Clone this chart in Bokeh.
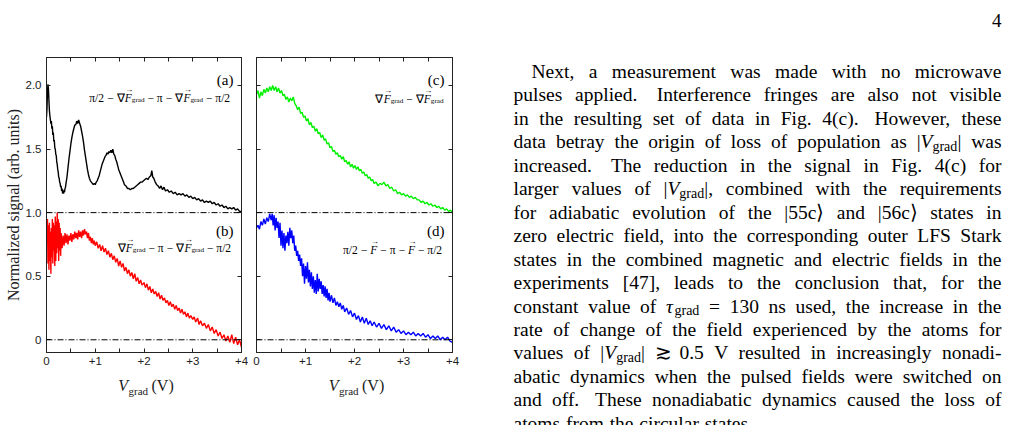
import re
import math
from bokeh.plotting import figure
from bokeh.layouts import row, column
from bokeh.models import (Range1d, FixedTicker, CustomJSTickFormatter, LinearAxis, Span)
from bokeh.core.properties import value
from bokeh.embed import file_html
from bokeh.resources import INLINE

# ------------------------------------------------------------------ data
# (a) pi/2 - gradF - pi - gradF - pi/2  (black)
v_a = [0.00, 0.01, 0.02, 0.03, 0.04, 0.05, 0.06, 0.07, 0.08, 0.09, 0.10, 0.11, 0.12, 0.13,
       0.14, 0.15, 0.16, 0.17, 0.18, 0.19, 0.20, 0.21, 0.22, 0.23, 0.24, 0.25, 0.26, 0.27,
       0.28, 0.29, 0.30, 0.31, 0.32, 0.33, 0.34, 0.35, 0.36, 0.37, 0.38, 0.39, 0.40, 0.42,
       0.44, 0.46, 0.48, 0.50, 0.52, 0.54, 0.56, 0.58, 0.60, 0.62, 0.64, 0.66, 0.68, 0.70,
       0.72, 0.74, 0.76, 0.78, 0.80, 0.82, 0.84, 0.86, 0.88, 0.90, 0.92, 0.94, 0.96, 0.98,
       1.00, 1.02, 1.04, 1.06, 1.08, 1.10, 1.12, 1.14, 1.16, 1.18, 1.20, 1.22, 1.24, 1.26,
       1.28, 1.30, 1.32, 1.34, 1.36, 1.38, 1.40, 1.42, 1.44, 1.46, 1.48, 1.50, 1.52, 1.54,
       1.56, 1.58, 1.60, 1.63, 1.66, 1.69, 1.72, 1.75, 1.78, 1.81, 1.84, 1.87, 1.90, 1.93,
       1.96, 1.99, 2.02, 2.05, 2.08, 2.11, 2.14, 2.16, 2.18, 2.20, 2.23, 2.26, 2.29, 2.32,
       2.35, 2.38, 2.41, 2.44, 2.48, 2.52, 2.56, 2.60, 2.64, 2.68, 2.72, 2.76, 2.80, 2.84,
       2.88, 2.92, 2.96, 3.00, 3.04, 3.08, 3.12, 3.16, 3.20, 3.24, 3.28, 3.32, 3.36, 3.40,
       3.44, 3.48, 3.52, 3.56, 3.60, 3.64, 3.68, 3.72, 3.76, 3.80, 3.84, 3.88, 3.92, 3.96,
       4.00]
s_a = [1.75, 1.82, 1.95, 2.01, 1.97, 1.88, 1.80, 1.76, 1.73, 1.70, 1.72, 1.66, 1.68, 1.61,
       1.63, 1.56, 1.57, 1.51, 1.50, 1.46, 1.45, 1.40, 1.38, 1.34, 1.32, 1.28, 1.27, 1.24,
       1.23, 1.20, 1.21, 1.17, 1.19, 1.15, 1.17, 1.15, 1.18, 1.16, 1.19, 1.20, 1.23, 1.28,
       1.35, 1.42, 1.48, 1.54, 1.59, 1.63, 1.66, 1.69, 1.69, 1.72, 1.70, 1.73, 1.70, 1.68,
       1.64, 1.60, 1.55, 1.49, 1.44, 1.39, 1.34, 1.30, 1.27, 1.25, 1.24, 1.23, 1.22, 1.23,
       1.22, 1.24, 1.25, 1.27, 1.29, 1.32, 1.35, 1.38, 1.40, 1.42, 1.44, 1.45, 1.47, 1.46,
       1.48, 1.47, 1.49, 1.47, 1.50, 1.46, 1.45, 1.42, 1.40, 1.37, 1.34, 1.32, 1.30, 1.28,
       1.26, 1.24, 1.22, 1.21, 1.19, 1.19, 1.18, 1.19, 1.19, 1.20, 1.21, 1.22, 1.23, 1.24,
       1.24, 1.25, 1.26, 1.27, 1.26, 1.28, 1.29, 1.33, 1.28, 1.27, 1.24, 1.22, 1.21, 1.19,
       1.21, 1.18, 1.20, 1.17, 1.18, 1.16, 1.17, 1.15, 1.16, 1.14, 1.15, 1.14, 1.15, 1.13,
       1.14, 1.12, 1.13, 1.11, 1.12, 1.10, 1.11, 1.09, 1.10, 1.08, 1.09, 1.08, 1.09, 1.07,
       1.08, 1.06, 1.07, 1.05, 1.06, 1.04, 1.05, 1.03, 1.04, 1.03, 1.04, 1.02, 1.03, 1.01,
       1.01]

# (b) gradF - pi - gradF - pi/2  (red)
v_b = [0.00, 0.01, 0.02, 0.03, 0.04, 0.05, 0.06, 0.07, 0.08, 0.09, 0.10, 0.11, 0.12, 0.13,
       0.14, 0.15, 0.16, 0.17, 0.18, 0.19, 0.20, 0.21, 0.22, 0.23, 0.24, 0.25, 0.26, 0.27,
       0.28, 0.29, 0.30, 0.32, 0.34, 0.36, 0.38, 0.40, 0.42, 0.44, 0.46, 0.48, 0.50, 0.52,
       0.54, 0.56, 0.58, 0.60, 0.62, 0.64, 0.66, 0.68, 0.70, 0.72, 0.74, 0.76, 0.78, 0.80,
       0.82, 0.84, 0.86, 0.88, 0.90, 0.92, 0.94, 0.96, 0.98, 1.00, 1.03, 1.06, 1.09, 1.12,
       1.15, 1.18, 1.21, 1.24, 1.27, 1.30, 1.33, 1.36, 1.39, 1.42, 1.45, 1.48, 1.51, 1.54,
       1.57, 1.60, 1.63, 1.66, 1.69, 1.72, 1.75, 1.78, 1.81, 1.84, 1.87, 1.90, 1.93, 1.96,
       2.00, 2.03, 2.06, 2.09, 2.12, 2.15, 2.18, 2.21, 2.24, 2.27, 2.30, 2.33, 2.36, 2.39,
       2.42, 2.45, 2.48, 2.51, 2.54, 2.57, 2.60, 2.63, 2.66, 2.69, 2.72, 2.75, 2.78, 2.81,
       2.84, 2.87, 2.90, 2.93, 2.96, 3.00, 3.03, 3.06, 3.10, 3.13, 3.16, 3.20, 3.24, 3.28,
       3.32, 3.36, 3.40, 3.44, 3.48, 3.52, 3.56, 3.60, 3.64, 3.68, 3.72, 3.76, 3.80, 3.84,
       3.88, 3.92, 3.96, 4.00]
s_b = [0.80, 0.78, 0.95, 0.60, 0.90, 0.55, 0.92, 0.62, 0.85, 0.52, 0.88, 0.65, 0.95, 0.60,
       0.92, 0.70, 0.90, 0.58, 0.97, 0.62, 0.93, 0.68, 1.00, 0.72, 0.95, 0.62, 0.92, 0.70,
       0.88, 0.66, 0.84, 0.72, 0.82, 0.74, 0.84, 0.76, 0.83, 0.75, 0.82, 0.78, 0.84, 0.77,
       0.83, 0.79, 0.85, 0.80, 0.84, 0.79, 0.86, 0.81, 0.85, 0.80, 0.86, 0.82, 0.87, 0.83,
       0.85, 0.80, 0.84, 0.78, 0.81, 0.76, 0.80, 0.75, 0.78, 0.74, 0.77, 0.72, 0.75, 0.70,
       0.74, 0.69, 0.72, 0.67, 0.70, 0.65, 0.68, 0.63, 0.66, 0.61, 0.64, 0.58, 0.62, 0.57,
       0.60, 0.54, 0.57, 0.52, 0.55, 0.50, 0.53, 0.48, 0.52, 0.46, 0.49, 0.44, 0.47, 0.43,
       0.45, 0.41, 0.44, 0.39, 0.42, 0.37, 0.40, 0.36, 0.38, 0.34, 0.37, 0.32, 0.35, 0.31,
       0.33, 0.29, 0.31, 0.27, 0.30, 0.26, 0.28, 0.24, 0.27, 0.23, 0.25, 0.21, 0.24, 0.20,
       0.22, 0.18, 0.21, 0.17, 0.19, 0.16, 0.18, 0.14, 0.17, 0.12, 0.15, 0.11, 0.13, 0.09,
       0.12, 0.07, 0.10, 0.05, 0.08, 0.03, 0.06, 0.01, 0.04, -0.01, 0.03, -0.02, 0.04, -0.03,
       0.02, -0.04, 0.00, -0.06]

# (c) gradF - gradF  (green)
v_c = [0.00, 0.03, 0.06, 0.09, 0.12, 0.15, 0.18, 0.21, 0.24, 0.27, 0.30, 0.33, 0.36, 0.39,
       0.42, 0.45, 0.48, 0.51, 0.54, 0.57, 0.60, 0.63, 0.66, 0.69, 0.72, 0.75, 0.78, 0.81,
       0.84, 0.87, 0.90, 0.93, 0.96, 0.99, 1.02, 1.05, 1.08, 1.11, 1.14, 1.17, 1.20, 1.23,
       1.26, 1.29, 1.32, 1.35, 1.38, 1.41, 1.44, 1.47, 1.50, 1.53, 1.56, 1.59, 1.62, 1.65,
       1.68, 1.71, 1.74, 1.77, 1.80, 1.83, 1.86, 1.89, 1.92, 1.95, 1.98, 2.01, 2.04, 2.07,
       2.10, 2.13, 2.16, 2.19, 2.22, 2.25, 2.28, 2.31, 2.34, 2.37, 2.40, 2.44, 2.48, 2.52,
       2.56, 2.60, 2.64, 2.68, 2.72, 2.76, 2.80, 2.84, 2.88, 2.92, 2.96, 3.00, 3.04, 3.08,
       3.12, 3.16, 3.20, 3.24, 3.28, 3.32, 3.36, 3.40, 3.44, 3.48, 3.52, 3.56, 3.60, 3.64,
       3.68, 3.72, 3.76, 3.80, 3.84, 3.88, 3.92, 3.96, 4.00]
s_c = [1.93, 1.96, 1.90, 1.95, 1.92, 1.97, 1.94, 1.98, 1.95, 1.99, 1.96, 2.00, 1.96, 1.99,
       1.95, 1.98, 1.94, 1.96, 1.92, 1.93, 1.89, 1.91, 1.87, 1.90, 1.88, 1.91, 1.86, 1.84,
       1.81, 1.83, 1.78, 1.79, 1.75, 1.76, 1.72, 1.74, 1.69, 1.71, 1.67, 1.68, 1.64, 1.66,
       1.62, 1.63, 1.59, 1.61, 1.57, 1.58, 1.54, 1.55, 1.51, 1.52, 1.48, 1.49, 1.46, 1.47,
       1.44, 1.45, 1.42, 1.44, 1.40, 1.41, 1.38, 1.40, 1.36, 1.38, 1.35, 1.37, 1.34, 1.36,
       1.33, 1.34, 1.31, 1.32, 1.29, 1.30, 1.27, 1.28, 1.25, 1.26, 1.23, 1.24, 1.21, 1.23,
       1.22, 1.24, 1.21, 1.22, 1.19, 1.20, 1.17, 1.18, 1.15, 1.16, 1.14, 1.15, 1.13, 1.14,
       1.12, 1.13, 1.11, 1.12, 1.10, 1.10, 1.08, 1.09, 1.07, 1.08, 1.06, 1.07, 1.05, 1.06,
       1.04, 1.05, 1.03, 1.04, 1.02, 1.03, 1.01, 1.02, 1.00]

# (d) pi/2 - F - pi - F - pi/2  (blue)
v_d = [0.00, 0.03, 0.06, 0.09, 0.12, 0.15, 0.18, 0.21, 0.24, 0.27, 0.30, 0.32, 0.34, 0.36,
       0.38, 0.40, 0.42, 0.44, 0.46, 0.48, 0.50, 0.52, 0.54, 0.56, 0.58, 0.60, 0.62, 0.64,
       0.66, 0.68, 0.70, 0.72, 0.74, 0.76, 0.78, 0.80, 0.82, 0.84, 0.86, 0.88, 0.90, 0.92,
       0.94, 0.96, 0.98, 1.00, 1.02, 1.04, 1.06, 1.08, 1.10, 1.12, 1.14, 1.16, 1.18, 1.20,
       1.22, 1.24, 1.26, 1.28, 1.30, 1.32, 1.34, 1.36, 1.38, 1.40, 1.42, 1.44, 1.46, 1.48,
       1.50, 1.53, 1.56, 1.59, 1.62, 1.65, 1.68, 1.71, 1.74, 1.77, 1.80, 1.84, 1.88, 1.92,
       1.96, 2.00, 2.04, 2.08, 2.12, 2.16, 2.20, 2.24, 2.28, 2.32, 2.36, 2.40, 2.45, 2.50,
       2.55, 2.60, 2.65, 2.70, 2.75, 2.80, 2.85, 2.90, 2.95, 3.00, 3.05, 3.10, 3.15, 3.20,
       3.25, 3.30, 3.35, 3.40, 3.45, 3.50, 3.55, 3.60, 3.65, 3.70, 3.75, 3.80, 3.85, 3.90,
       3.95, 4.00]
s_d = [0.88, 0.90, 0.87, 0.93, 0.90, 0.95, 0.91, 0.96, 0.93, 0.99, 0.94, 0.99, 0.90, 0.98,
       0.86, 0.96, 0.88, 0.93, 0.80, 0.92, 0.74, 0.86, 0.72, 0.84, 0.70, 0.82, 0.76, 0.85,
       0.74, 0.88, 0.80, 0.86, 0.76, 0.82, 0.70, 0.74, 0.66, 0.70, 0.62, 0.67, 0.58, 0.64,
       0.50, 0.60, 0.44, 0.58, 0.48, 0.61, 0.45, 0.55, 0.42, 0.53, 0.40, 0.50, 0.37, 0.47,
       0.36, 0.52, 0.38, 0.48, 0.40, 0.46, 0.36, 0.43, 0.34, 0.42, 0.33, 0.40, 0.31, 0.37,
       0.30, 0.35, 0.29, 0.33, 0.27, 0.30, 0.26, 0.29, 0.24, 0.27, 0.22, 0.25, 0.20, 0.23,
       0.18, 0.21, 0.16, 0.19, 0.14, 0.18, 0.13, 0.17, 0.12, 0.15, 0.11, 0.14, 0.10, 0.13,
       0.09, 0.12, 0.08, 0.11, 0.07, 0.10, 0.06, 0.08, 0.05, 0.07, 0.04, 0.06, 0.04, 0.06,
       0.03, 0.05, 0.03, 0.05, 0.02, 0.04, 0.01, 0.03, 0.01, 0.03, 0.00, 0.02, 0.00, 0.02,
       -0.01, -0.02]

X_TICKS = [0, 1, 2, 3, 4]
X_MINOR = [0.5, 1.5, 2.5, 3.5]
Y_TICKS = [0.0, 0.5, 1.0, 1.5, 2.0]
REF_LEVELS = [0.0, 1.0]

PANEL_TAGS = ["(a)", "(b)", "(c)", "(d)"]
Y_TITLE = "Normalized signal (arb. units)"
X_TITLE = ("V", "grad", "(V)")

TEXT_LINES = [
    "Next, a measurement was made with no microwave",
    "pulses applied. Interference fringes are also not visible",
    "in the resulting set of data in Fig. 4(c). However, these",
    "data betray the origin of loss of population as |{i:V}{s:grad}| was",
    "increased. The reduction in the signal in Fig. 4(c) for",
    "larger values of |{i:V}{s:grad}|, combined with the requirements",
    "for adiabatic evolution of the |55c\u27e9 and |56c\u27e9 states in",
    "zero electric field, into the corresponding outer LFS Stark",
    "states in the combined magnetic and electric fields in the",
    "experiments [47], leads to the conclusion that, for the",
    "constant value of {i:\u03c4}{s:grad} = 130 ns used, the increase in the",
    "rate of change of the field experienced by the atoms for",
    "values of |{i:V}{s:grad}| \u2273 0.5 V resulted in increasingly nonadi-",
    "abatic dynamics when the pulsed fields were switched on",
    "and off. These nonadiabatic dynamics caused the loss of",
    "atoms from the circular states.",
]
PAGE_NUMBER = "4"

# ------------------------------------------------------------------ style / layout
SERIF = "Liberation Serif"
SANS = "Liberation Sans"
PAGE_W, PAGE_H = 1009, 425
TITLE_H = 50                       # strip below the panels holding the x titles
PANEL_H = PAGE_H - TITLE_H
TOP, BOTTOM = 57, 23               # frame rows 57 -> 352
X_RANGE = (0.0, 4.0)
Y_RANGE = (-0.1, 2.22)
FRAME_H = PANEL_H - TOP - BOTTOM
PXU = FRAME_H / (Y_RANGE[1] - Y_RANGE[0])      # px per y unit


def ydat(pix):
    """page pixel row -> y data value in a panel"""
    return Y_RANGE[0] + (TOP + FRAME_H - pix) / PXU


ROMAN = {' ': 250, '(': 333, ')': 333, ',': 250, '-': 333, '.': 250, '/': 278,
         ':': 278, '=': 564, '[': 333, ']': 333, '|': 200,
         'A': 722, 'B': 667, 'C': 667, 'D': 722, 'E': 611, 'F': 556, 'G': 722, 'H': 722,
         'I': 333, 'J': 389, 'K': 722, 'L': 611, 'M': 889, 'N': 722, 'O': 722, 'P': 556,
         'Q': 722, 'R': 667, 'S': 556, 'T': 611, 'U': 722, 'V': 722, 'W': 944, 'X': 722,
         'Y': 722, 'Z': 611,
         'a': 444, 'b': 500, 'c': 444, 'd': 500, 'e': 444, 'f': 333, 'g': 500, 'h': 500,
         'i': 278, 'j': 278, 'k': 500, 'l': 278, 'm': 778, 'n': 500, 'o': 500, 'p': 500,
         'q': 500, 'r': 333, 's': 389, 't': 278, 'u': 500, 'v': 500, 'w': 722, 'x': 500,
         'y': 500, 'z': 444, '\u03c0': 540, '\u2212': 564, '\u2207': 713, '\u27e9': 390,
         '\u2273': 700, '\u03c4': 440}
for _d in "0123456789":
    ROMAN[_d] = 500
ITAL = {'V': 611, 'F': 611, '\u03c4': 440}


def run_width(text, kind, size):
    table = ITAL if kind in ("i", "iv") else ROMAN
    return sum(table.get(c, ROMAN.get(c, 500)) for c in text) * size / 1000.0


def layout_runs(runs, fs, sub_scale):
    items, x = [], 0.0
    for text, kind in runs:
        size = fs * sub_scale if kind == "s" else fs
        for tok in re.split(r"( )", text):
            if tok == "":
                continue
            w = run_width(tok, kind, size)
            if tok != " ":
                items.append((x, w, tok, kind))
            x += w
    return items, x


def panel_formula(p, runs, right_off, base_pix, fs=11.5):
    items, total = layout_runs(runs, fs, 0.62)
    x0 = right_off - total
    for x, w, tok, kind in items:
        if kind == "s":
            p.text(x=[X_RANGE[1]], y=[ydat(base_pix + 2)], text=[tok], x_offset=x0 + x,
                   text_font=value(SERIF), text_font_size=value("%.1fpx" % (fs * 0.62)),
                   text_align="left", text_baseline="alphabetic", text_color="black")
        else:
            p.text(x=[X_RANGE[1]], y=[ydat(base_pix)], text=[tok], x_offset=x0 + x,
                   text_font=value(SERIF), text_font_size=value("%.1fpx" % fs),
                   text_font_style="italic" if kind in ("i", "iv") else "normal",
                   text_align="left", text_baseline="alphabetic", text_color="black")
            if kind == "iv":
                p.text(x=[X_RANGE[1]], y=[ydat(base_pix - 8.0)], text=["\u2192"],
                       x_offset=x0 + x + w * 0.62, text_font=value(SERIF),
                       text_font_size=value("8px"), text_align="center",
                       text_baseline="alphabetic", text_color="black")


def panel_tag(p, tag, base_pix):
    p.text(x=[X_RANGE[1]], y=[ydat(base_pix)], text=[tag], x_offset=-8,
           text_font=value(SERIF), text_font_size=value("15px"), text_align="right",
           text_baseline="alphabetic", text_color="black")


def axis(ticks, minor, fmt_code, standoff):
    ax = LinearAxis(ticker=FixedTicker(ticks=ticks, minor_ticks=minor),
                    formatter=CustomJSTickFormatter(code=fmt_code))
    ax.axis_line_color = "#222222"
    ax.major_tick_line_color = "#222222"
    ax.minor_tick_line_color = "#222222"
    ax.major_tick_in = 4
    ax.major_tick_out = 0
    ax.minor_tick_in = 4
    ax.minor_tick_out = 0
    ax.major_label_text_font = SANS
    ax.major_label_text_font_size = "11.5px"
    ax.major_label_text_color = "#222222"
    ax.major_label_standoff = standoff
    return ax


X_FMT = "return tick == 0 ? '0' : '+' + tick.toFixed(0);"
Y_FMT = "return tick == 0 ? '0' : tick.toFixed(1);"
NO_FMT = "return '';"


def blank(p):
    p.xgrid.visible = False
    p.ygrid.visible = False
    p.background_fill_color = "white"
    p.border_fill_color = "white"


def make_panel(width, left, right, y_title):
    p = figure(width=width, height=PANEL_H, x_range=Range1d(*X_RANGE),
               y_range=Range1d(*Y_RANGE), output_backend="svg", toolbar_location=None,
               min_border_left=left, min_border_right=right, min_border_top=TOP,
               min_border_bottom=BOTTOM, x_axis_location=None, y_axis_location=None)
    blank(p)
    p.outline_line_color = "#222222"
    p.add_layout(axis(X_TICKS, X_MINOR, X_FMT, 4), "below")
    p.add_layout(axis(X_TICKS, X_MINOR, NO_FMT, 0), "above")
    yl = axis(Y_TICKS, [], Y_FMT if y_title else NO_FMT, 5 if y_title else 0)
    if y_title:
        yl.axis_label = y_title
        yl.axis_label_text_font = SERIF
        yl.axis_label_text_font_size = "16px"
        yl.axis_label_text_font_style = "normal"
        yl.axis_label_text_color = "#222222"
        yl.axis_label_standoff = 1
    p.add_layout(yl, "left")
    p.add_layout(axis(Y_TICKS, [], NO_FMT, 0), "right")
    for lv in REF_LEVELS:
        p.add_layout(Span(location=lv, dimension="width", line_color="black",
                          line_width=1, line_dash="6 2 1 2"))
    return p


def make_title(width, left, right):
    # strip under a panel, same horizontal frame, y in page pixel rows
    t = figure(width=width, height=TITLE_H, x_range=Range1d(*X_RANGE),
               y_range=Range1d(PAGE_H, PANEL_H), output_backend="svg",
               toolbar_location=None, min_border_left=left, min_border_right=right,
               min_border_top=0, min_border_bottom=0, x_axis_location=None,
               y_axis_location=None)
    blank(t)
    t.outline_line_color = None
    t.frame_align = False
    xc = 0.5 * (X_RANGE[0] + X_RANGE[1])
    t.text(x=[xc], y=[385], text=[X_TITLE[0]], x_offset=-16, text_align="right",
           text_baseline="alphabetic", text_font=value(SERIF),
           text_font_size=value("16px"), text_font_style="italic", text_color="#222222")
    t.text(x=[xc], y=[390], text=[X_TITLE[1]], x_offset=-15.5, text_align="left",
           text_baseline="alphabetic", text_font=value(SERIF),
           text_font_size=value("11px"), text_color="#222222")
    t.text(x=[xc], y=[385], text=[X_TITLE[2]], x_offset=7.5, text_align="left",
           text_baseline="alphabetic", text_font=value(SERIF),
           text_font_size=value("16px"), text_color="#222222")
    return t


# left panel: frame 46 -> 241, right panel: frame 256 -> 452
pl = make_panel(248, 46, 7, Y_TITLE)
pr = make_panel(212, 8, 8, None)
tl = make_title(248, 46, 7)
tr = make_title(212, 8, 8)

pl.line(v_a, s_a, line_color="black", line_width=1.4)
pl.line(v_b, s_b, line_color="#ff0000", line_width=1.4)
pr.line(v_c, s_c, line_color="#00f000", line_width=1.4)
pr.line(v_d, s_d, line_color="#0000ff", line_width=1.4)

PI, MINUS, NABLA = "\u03c0", "\u2212", "\u2207"
FORM_A = [(PI + "/2 " + MINUS + " " + NABLA, "n"), ("F", "iv"), ("grad", "s"),
          (" " + MINUS + " " + PI + " " + MINUS + " " + NABLA, "n"), ("F", "iv"),
          ("grad", "s"), (" " + MINUS + " " + PI + "/2", "n")]
FORM_B = [(NABLA, "n"), ("F", "iv"), ("grad", "s"),
          (" " + MINUS + " " + PI + " " + MINUS + " " + NABLA, "n"), ("F", "iv"),
          ("grad", "s"), (" " + MINUS + " " + PI + "/2", "n")]
FORM_C = [(NABLA, "n"), ("F", "iv"), ("grad", "s"), (" " + MINUS + " " + NABLA, "n"),
          ("F", "iv"), ("grad", "s")]
FORM_D = [(PI + "/2 " + MINUS + " ", "n"), ("F", "iv"),
          (" " + MINUS + " " + PI + " " + MINUS + " ", "n"), ("F", "iv"),
          (" " + MINUS + " " + PI + "/2", "n")]

panel_tag(pl, PANEL_TAGS[0], 79)
panel_formula(pl, FORM_A, -11, 97)
panel_tag(pl, PANEL_TAGS[1], 230)
panel_formula(pl, FORM_B, -10, 247)
panel_tag(pr, PANEL_TAGS[2], 79)
panel_formula(pr, FORM_C, -9, 98)
panel_tag(pr, PANEL_TAGS[3], 230)
panel_formula(pr, FORM_D, -10, 249)

# ------------------------------------------------------------------ text column
TX0 = 460
pt = figure(width=PAGE_W - TX0, height=PAGE_H, x_range=Range1d(TX0, PAGE_W),
            y_range=Range1d(PAGE_H, 0), output_backend="svg", toolbar_location=None,
            min_border=0, min_border_left=0, min_border_right=0, min_border_top=0,
            min_border_bottom=0, x_axis_location=None, y_axis_location=None)
blank(pt)
pt.outline_line_color = None
pt.frame_align = False

FS = 19.5
SUB = 0.72
LEFT, RIGHT = 513.0, 1001.0
INDENT = 18.0
BASE0, LEAD = 71.0, 23.45


def parse_word(w):
    out, pos = [], 0
    for m in re.finditer(r"\{([is]):([^}]*)\}", w):
        if m.start() > pos:
            out.append((w[pos:m.start()], "n"))
        out.append((m.group(2), m.group(1)))
        pos = m.end()
    if pos < len(w):
        out.append((w[pos:], "n"))
    return out


buckets = {"n": ([], [], []), "i": ([], [], []), "s": ([], [], [])}
for li, line in enumerate(TEXT_LINES):
    raw = line.split(" ")
    words = [parse_word(w) for w in raw]
    widths = [sum(run_width(t, k, FS * SUB if k == "s" else FS) for t, k in wd) for wd in words]
    left = LEFT + (INDENT if li == 0 else 0.0)
    weights = [1.5 if (wt.endswith(".") and wt != "Fig.") else 1.0 for wt in raw[:-1]]
    if li == len(TEXT_LINES) - 1 or not weights:
        unit = FS * 0.3
    else:
        unit = (RIGHT - left - sum(widths)) / sum(weights)
    base = BASE0 + li * LEAD
    x = left
    for wi, wd in enumerate(words):
        cx = x
        for t, k in wd:
            size = FS * SUB if k == "s" else FS
            bx, by, bt = buckets[k]
            bx.append(cx)
            by.append(base + (4.5 if k == "s" else 0.0))
            bt.append(t)
            cx += run_width(t, k, size)
        if wi < len(weights):
            x += widths[wi] + unit * weights[wi]

for k, (bx, by, bt) in buckets.items():
    if not bx:
        continue
    pt.text(x=bx, y=by, text=bt, text_font=value(SERIF),
            text_font_size=value("%.1fpx" % (FS * SUB if k == "s" else FS)),
            text_font_style="italic" if k == "i" else "normal",
            text_align="left", text_baseline="alphabetic", text_color="black")

pt.text(x=[RIGHT], y=[20], text=[PAGE_NUMBER], text_font=value(SERIF),
        text_font_size=value("19px"), text_align="right", text_baseline="alphabetic",
        text_color="black")

layout = row(column(row(pl, pr), row(tl, tr)), pt)
open("out.html", "w").write(file_html(layout, INLINE))
